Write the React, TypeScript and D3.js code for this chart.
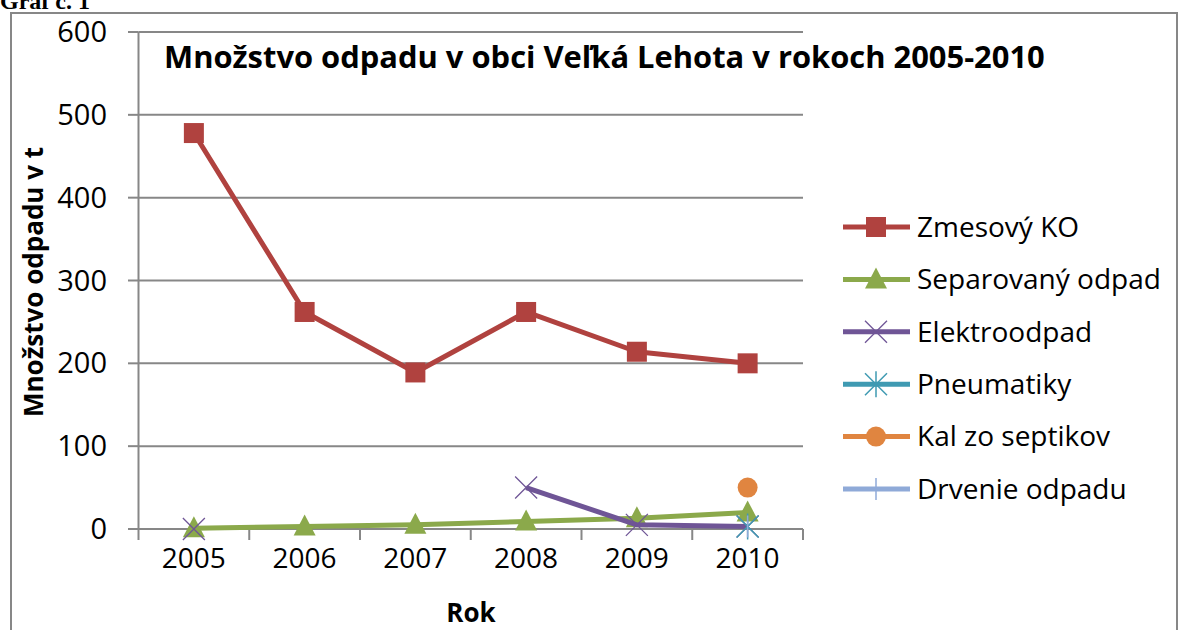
import React from "react";
import * as d3 from "d3";

// years on x axis
const years = ["2005", "2006", "2007", "2008", "2009", "2010"];
const yTicks = [0, 100, 200, 300, 400, 500, 600];

// values in t (null = no value that year)
const zmesovyKO = [478, 262, 189, 262, 214, 200];
const separovany = [1, 3, 5, 9, 13, 20];
const elektroodpad = [0, null, null, 50, 5, 3];
const pneumatiky = [null, null, null, null, null, 3];
const kalZoSeptikov = [null, null, null, null, null, 50];
const drvenieOdpadu = [null, null, null, null, null, 3];

const seriesNames = [
  "Zmesový KO",
  "Separovaný odpad",
  "Elektroodpad",
  "Pneumatiky",
  "Kal zo septikov",
  "Drvenie odpadu",
];
const seriesColors = ["#B0423F", "#8BA94B", "#6F5596", "#3F9AB2", "#E08540", "#8FAAD8"];
const seriesMarkers = ["square", "triangle", "x", "star", "circle", "plus"];
const seriesValues = [zmesovyKO, separovany, elektroodpad, pneumatiky, kalZoSeptikov, drvenieOdpadu];

const FONT = "'Open Sans', 'DejaVu Sans', sans-serif";

const Marker = ({ type, x, y, color }) => {
  const t = `translate(${x},${y})`;
  if (type === "square") return <rect transform={t} x={-10} y={-10} width={20} height={20} fill={color} />;
  if (type === "triangle") return <path transform={t} d="M0,-12L11,9L-11,9Z" fill={color} />;
  if (type === "circle") return <circle transform={t} r={10} fill={color} />;
  if (type === "x")
    return <path transform={t} d="M-11,-11L11,11M-11,11L11,-11" stroke={color} strokeWidth={1.3} fill="none" />;
  if (type === "star")
    return (
      <path transform={t} d="M-11,-11L11,11M-11,11L11,-11M0,-13L0,13" stroke={color} strokeWidth={1.5} fill="none" />
    );
  if (type === "plus") return <path transform={t} d="M0,-11L0,11" stroke={color} strokeWidth={1.5} fill="none" />;
  return null;
};

export default function App() {
  const left = 138.5;
  const right = 803;
  const top = 32;
  const bottom = 529;

  const x = d3.scaleBand().domain(years).range([left, right]);
  const y = d3.scaleLinear().domain([0, 600]).range([bottom, top]);
  const cx = (yr) => x(yr) + x.bandwidth() / 2;

  const line = d3
    .line()
    .defined((d) => d[1] !== null)
    .x((d) => cx(d[0]))
    .y((d) => y(d[1]));

  const legendY = d3.scalePoint().domain(seriesNames).range([227, 489]);

  return (
    <svg width={1184} height={630} style={{ position: "absolute", left: 0, top: 0, background: "#fff" }}>
      <text x={0} y={9} fontFamily="'Liberation Serif', serif" fontWeight="bold" fontSize={24}>
        Graf č. 1
      </text>
      <rect x={11} y={13} width={1166} height={640} fill="none" stroke="#878787" strokeWidth={2} />

      {/* gridlines */}
      {yTicks.map((t) => (
        <g key={t}>
          <line x1={left} x2={right} y1={y(t)} y2={y(t)} stroke="#878787" strokeWidth={2} />
          <line x1={128} x2={left} y1={y(t)} y2={y(t)} stroke="#878787" strokeWidth={2} />
          <text x={107} y={y(t)} dy="0.35em" textAnchor="end" fontFamily={FONT} fontSize={29}>
            {t}
          </text>
        </g>
      ))}
      {years.map((yr, i) => (
        <g key={yr}>
          <line x1={x(yr) + x.bandwidth()} x2={x(yr) + x.bandwidth()} y1={bottom} y2={540} stroke="#878787" strokeWidth={2} />
          {i === 0 && <line x1={left} x2={left} y1={bottom} y2={540} stroke="#878787" strokeWidth={2} />}
          <text x={cx(yr)} y={568} textAnchor="middle" fontFamily={FONT} fontSize={28}>
            {yr}
          </text>
        </g>
      ))}

      {/* title box */}
      <rect x={140} y={34} width={920} height={63} fill="#fff" />
      <line x1={left} x2={left} y1={top} y2={bottom} stroke="#878787" strokeWidth={2} />
      <text x={164} y={68} fontFamily={FONT} fontWeight="bold" fontSize={30.9}>
        Množstvo odpadu v obci Veľká Lehota v rokoch 2005-2010
      </text>

      {/* series */}
      {seriesValues.map((vals, si) => {
        const pts = years.map((yr, i) => [yr, vals[i]]);
        return (
          <g key={seriesNames[si]}>
            <path d={line(pts)} fill="none" stroke={seriesColors[si]} strokeWidth={5} strokeLinejoin="round" />
            {pts
              .filter((p) => p[1] !== null)
              .map((p) => (
                <Marker key={p[0]} type={seriesMarkers[si]} x={cx(p[0])} y={y(p[1])} color={seriesColors[si]} />
              ))}
          </g>
        );
      })}

      {/* legend */}
      {seriesNames.map((n, si) => {
        const ly = legendY(n);
        return (
          <g key={n}>
            <line x1={843} x2={910} y1={ly} y2={ly} stroke={seriesColors[si]} strokeWidth={5} />
            <Marker type={seriesMarkers[si]} x={876} y={ly} color={seriesColors[si]} />
            <text x={917} y={ly} dy="0.35em" fontFamily={FONT} fontSize={28}>
              {n}
            </text>
          </g>
        );
      })}

      {/* axis titles */}
      <text x={471} y={622} textAnchor="middle" fontFamily={FONT} fontWeight="bold" fontSize={26}>
        Rok
      </text>
      <text
        transform={`translate(43,${282}) rotate(-90)`}
        textAnchor="middle"
        fontFamily={FONT}
        fontWeight="bold"
        fontSize={26}
      >
        Množstvo odpadu v t
      </text>
    </svg>
  );
}
